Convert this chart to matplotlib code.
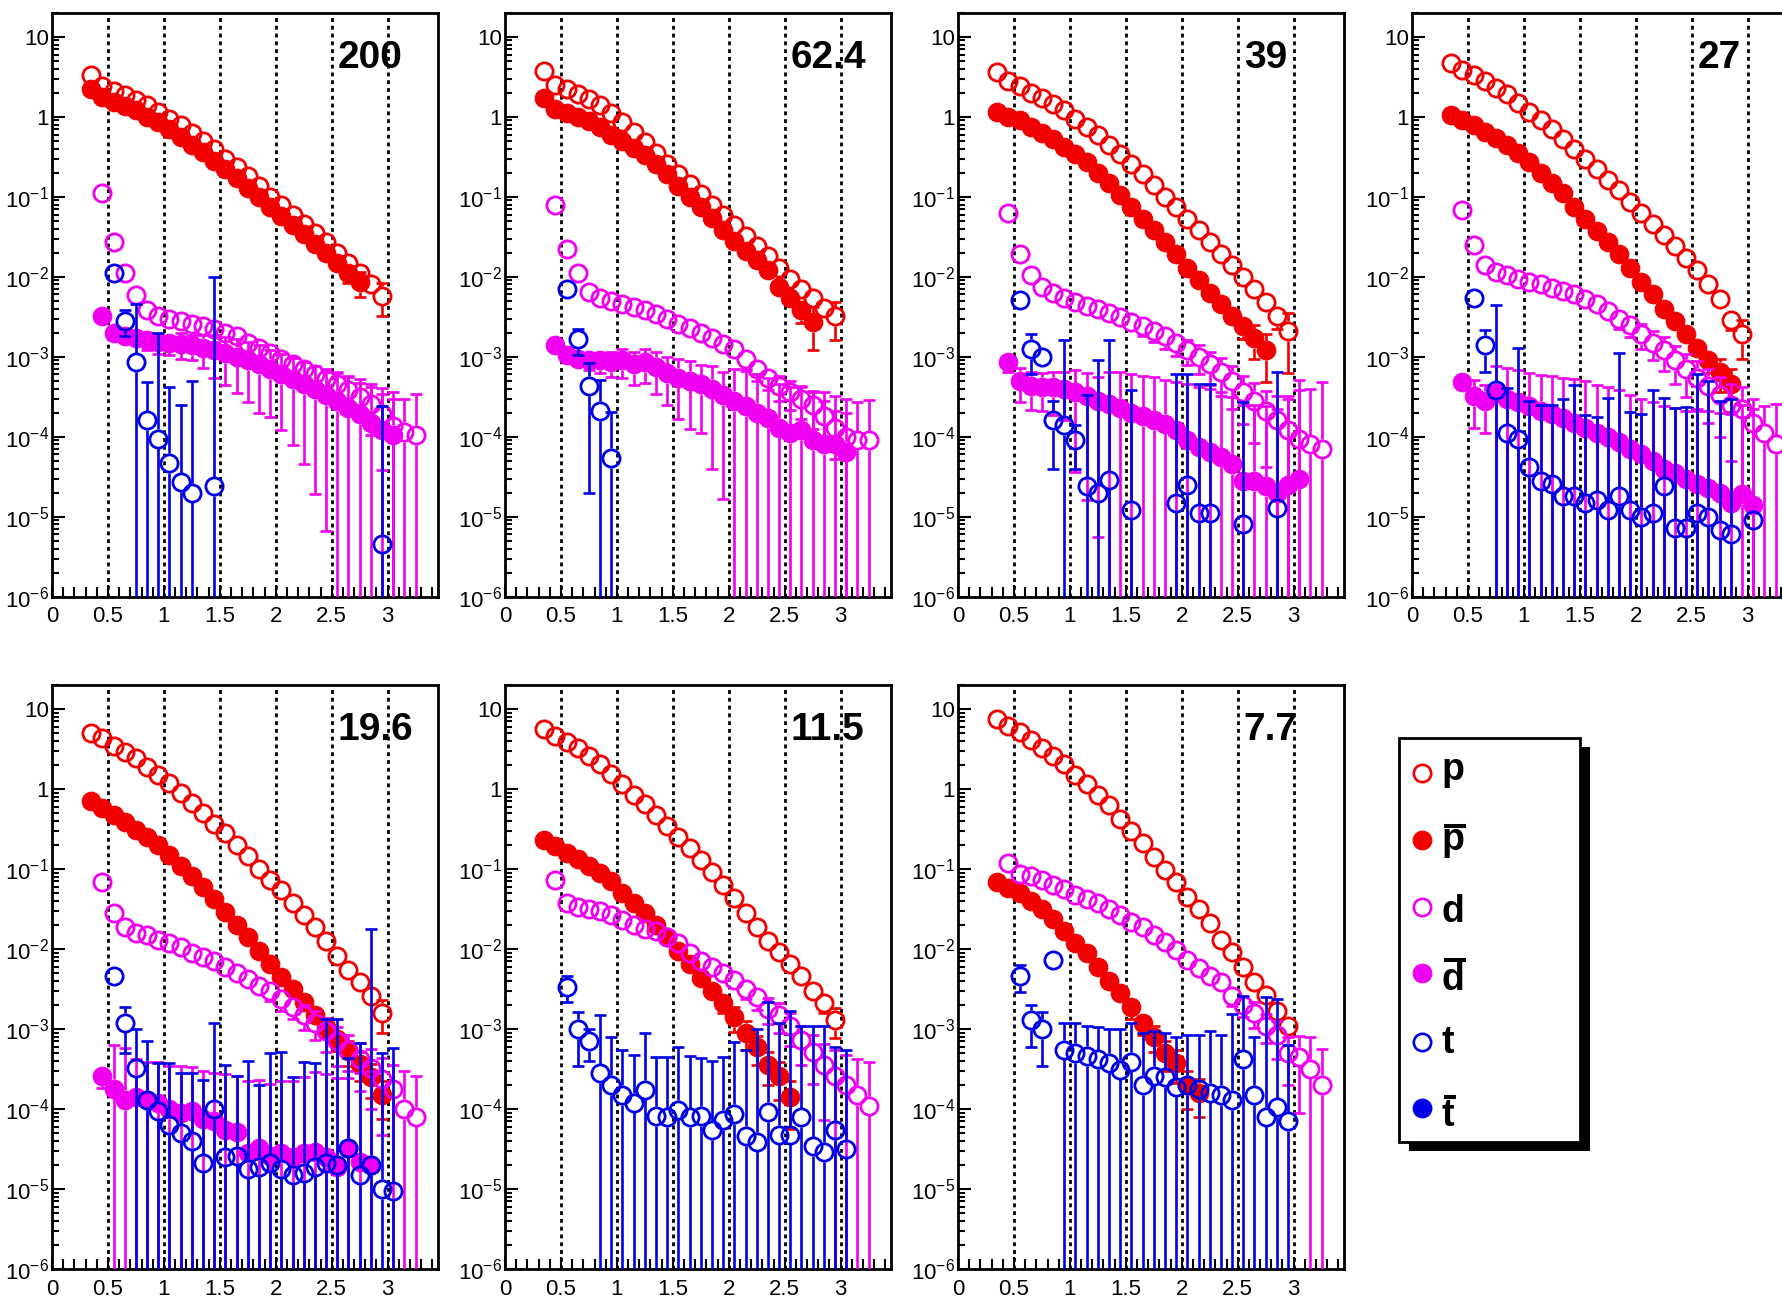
import numpy as np
import matplotlib.pyplot as plt
from matplotlib.patches import Rectangle
from matplotlib.ticker import (FixedLocator, LogLocator, MultipleLocator,
                               NullFormatter, FuncFormatter, FormatStrFormatter)

plt.rcParams["font.family"] = "Liberation Sans"
plt.rcParams["mathtext.fontset"] = "custom"
plt.rcParams["mathtext.rm"] = "Liberation Sans"
plt.rcParams["mathtext.bf"] = "Liberation Sans:bold"

# ---------------------------------------------------------------------------
# bin centres
# ---------------------------------------------------------------------------
X_P = [0.35, 0.45, 0.55, 0.65, 0.75, 0.85, 0.95, 1.05, 1.15, 1.25, 1.35, 1.45,
       1.55, 1.65, 1.75, 1.85, 1.95, 2.05, 2.15, 2.25, 2.35, 2.45, 2.55, 2.65,
       2.75, 2.85, 2.95]
X_D = [0.45, 0.55, 0.65, 0.75, 0.85, 0.95, 1.05, 1.15, 1.25, 1.35, 1.45, 1.55,
       1.65, 1.75, 1.85, 1.95, 2.05, 2.15, 2.25, 2.35, 2.45, 2.55, 2.65, 2.75,
       2.85, 2.95, 3.05, 3.15, 3.25]
X_T = [0.55, 0.65, 0.75, 0.85, 0.95, 1.05, 1.15, 1.25, 1.35, 1.45, 1.55, 1.65,
       1.75, 1.85, 1.95, 2.05, 2.15, 2.25, 2.35, 2.45, 2.55, 2.65, 2.75, 2.85,
       2.95, 3.05]

ENERGIES = ["200", "62.4", "39", "27", "19.6", "11.5", "7.7"]

# ---------------------------------------------------------------------------
# 200
# ---------------------------------------------------------------------------
P_200 = [3.3, 2.4, 2.1, 1.85, 1.6, 1.4, 1.15, 0.95, 0.78, 0.62, 0.5, 0.39, 0.3,
         0.235, 0.18, 0.135, 0.1, 0.078, 0.06, 0.046, 0.035, 0.027, 0.02, 0.015,
         0.011, 0.008, 0.0058]
P_TAIL_200 = [0.2, 0.45]
PBAR_200 = [2.2, 1.75, 1.55, 1.35, 1.2, 1.0, 0.85, 0.7, 0.56, 0.45, 0.36, 0.28,
            0.22, 0.17, 0.13, 0.1, 0.075, 0.058, 0.044, 0.034, 0.026, 0.02,
            0.015, 0.011, 0.0085]
PBAR_TAIL_200 = [0.15, 0.25, 0.35]
D_200 = [0.11, 0.027, 0.011, 0.0059, 0.0038, 0.0032, 0.003, 0.0028, 0.0026,
         0.0024, 0.0022, 0.002, 0.0018, 0.0015, 0.0013, 0.0011, 9.5e-4, 8.2e-4,
         7e-4, 6e-4, 5.2e-4, 4.5e-4, 3.8e-4, 3.1e-4, 2.6e-4, 1.9e-4, 1.35e-4,
         1.15e-4, 1.05e-4]
D_ERR_200 = [0.03, 0.03, 0.03, 0.03, 0.05, 0.05, 0.05, 0.06, 0.07, 0.08, 0.1,
             0.12, 0.14, 0.16, 0.18, 0.2, 0.22, 0.25, 0.28, 0.3, 0.35, 0.4,
             0.45, 0.5, 0.6, 0.8, 1.2, 1.6, 2.3]
DBAR_200 = [3.2e-3, 2.0e-3, 1.8e-3, 1.7e-3, 1.6e-3, 1.55e-3, 1.5e-3, 1.45e-3,
            1.4e-3, 1.3e-3, 1.2e-3, 1.1e-3, 1.0e-3, 9e-4, 8e-4, 7e-4, 6e-4,
            5.2e-4, 4.5e-4, 3.9e-4, 3.3e-4, 2.8e-4, 2.3e-4, 1.9e-4, 1.5e-4,
            1.2e-4, 1.05e-4]
DBAR_ERR_200 = [0.1, 0.15, 0.2, 0.2, 0.25, 0.3, 0.3, 0.35, 0.35, 0.45, 0.55,
                0.6, 0.65, 0.7, 0.75, 0.75, 0.8, 0.85, 0.9, 0.95, 0.98, 1.3,
                1.5, 1.8, 2.0, 2.4, 2.5]
T_200 = ([0.011, 2.8e-3, 8.5e-4, 1.6e-4, 9.5e-5, 4.7e-5, 2.7e-5, 2.0e-5, None,
          2.4e-5] + [None] * 14 + [4.5e-6, None])
T_ERR_200 = ([5e-4, 1e-3, 3.7e-3, 3.3e-4, 1.9e-3, 3.7e-4, 2.2e-4, 4.8e-4, None,
              1e-2] + [None] * 14 + [2.4e-4, None])

# ---------------------------------------------------------------------------
# 62.4
# ---------------------------------------------------------------------------
P_62 = [3.7, 2.5, 2.2, 1.9, 1.65, 1.4, 1.1, 0.87, 0.65, 0.48, 0.355, 0.26,
        0.195, 0.145, 0.107, 0.079, 0.059, 0.044, 0.032, 0.024, 0.018, 0.013,
        0.0095, 0.007, 0.0054, 0.0041, 0.0032]
P_TAIL_62 = [0.2, 0.5]
PBAR_62 = [1.7, 1.25, 1.1, 1.0, 0.88, 0.75, 0.6, 0.5, 0.41, 0.33, 0.26, 0.19,
           0.135, 0.1, 0.075, 0.055, 0.038, 0.028, 0.021, 0.016, 0.012, 0.0075,
           0.0055, 0.0038, 0.0027]
PBAR_TAIL_62 = [0.3, 0.55]
D_62 = [0.078, 0.022, 0.011, 6.5e-3, 5.5e-3, 5e-3, 4.6e-3, 4.2e-3, 3.8e-3,
        3.4e-3, 3e-3, 2.6e-3, 2.3e-3, 2e-3, 1.7e-3, 1.45e-3, 1.25e-3, 9.5e-4,
        7e-4, 5.5e-4, 4.3e-4, 3.6e-4, 3e-4, 2.5e-4, 1.8e-4, 1.3e-4, 1.0e-4,
        9e-5, 9e-5]
D_ERR_62 = [0.03, 0.03, 0.03, 0.03, 0.05, 0.05, 0.05, 0.06, 0.07, 0.08, 0.1,
            0.12, 0.14, 0.16, 0.18, 0.2, 0.22, 0.25, 0.28, 0.3, 0.35, 0.4,
            0.45, 0.5, 0.55, 0.6, 1.0, 2.0, 2.2]
DBAR_62 = [1.4e-3, 1.05e-3, 9.5e-4, 9e-4, 9e-4, 8.5e-4, 9e-4, 8e-4, 8.5e-4,
           7.5e-4, 6.2e-4, 5.5e-4, 5e-4, 4.5e-4, 4e-4, 3.3e-4, 2.8e-4, 2.4e-4,
           2e-4, 1.7e-4, 1.3e-4, 1.1e-4, 1.2e-4, 9e-5, 8e-5, 8e-5, 6.5e-5]
DBAR_ERR_62 = [0.1, 0.15, 0.2, 0.25, 0.3, 0.35, 0.4, 0.45, 0.45, 0.55, 0.6,
               0.7, 0.75, 0.75, 0.9, 0.95, 1.5, 1.8, 2.0, 2.2, 2.5, 2.8, 2.5,
               3.0, 3.5, 3.0, 3.5]
T_62 = [7e-3, 1.65e-3, 4.3e-4, 2.1e-4, 5.4e-5]
T_ERR_62 = [5e-4, 6e-4, 4.1e-4, 3e-4, 1.5e-4]

# ---------------------------------------------------------------------------
# 39
# ---------------------------------------------------------------------------
P_39 = [3.6, 2.8, 2.4, 2.0, 1.7, 1.45, 1.2, 0.95, 0.75, 0.6, 0.45, 0.34, 0.26,
        0.19, 0.14, 0.1, 0.075, 0.053, 0.038, 0.027, 0.019, 0.014, 0.0098,
        0.007, 0.0048, 0.0032, 0.0021]
P_TAIL_39 = [0.15, 0.3, 0.7]
PBAR_39 = [1.15, 1.0, 0.9, 0.75, 0.63, 0.52, 0.42, 0.34, 0.27, 0.2, 0.15, 0.105,
           0.075, 0.053, 0.038, 0.027, 0.019, 0.013, 0.009, 0.0063, 0.0045,
           0.0032, 0.0024, 0.0017, 0.0012]
PBAR_TAIL_39 = [0.3, 0.45, 0.6]
D_39 = [0.062, 0.019, 0.0105, 0.0075, 0.0062, 0.0055, 0.0048, 0.0043, 0.0039,
        0.0035, 0.0031, 0.0027, 0.0024, 0.0021, 0.0018, 0.0015, 0.0012, 0.001,
        8e-4, 6.5e-4, 5e-4, 3.6e-4, 2.8e-4, 2.1e-4, 1.6e-4, 1.2e-4, 9.5e-5,
        8e-5, 7e-5]
D_ERR_39 = [0.03, 0.03, 0.03, 0.04, 0.05, 0.06, 0.08, 0.1, 0.12, 0.15, 0.2,
            0.22, 0.25, 0.28, 0.3, 0.32, 0.35, 0.4, 0.45, 0.5, 0.55, 0.6, 0.7,
            0.8, 1.0, 1.5, 3.0, 4.0, 6.0]
DBAR_39 = [8.5e-4, 5e-4, 4.3e-4, 4.2e-4, 4.2e-4, 4e-4, 3.6e-4, 3.2e-4, 2.8e-4,
           2.6e-4, 2.3e-4, 2e-4, 1.8e-4, 1.6e-4, 1.45e-4, 1.2e-4, 9e-5, 7.5e-5,
           6.5e-5, 5.5e-5, 4.5e-5, 2.8e-5, 2.8e-5, 2.4e-5, 2e-5, 2.5e-5, 3e-5]
DBAR_ERR_39 = [0.25, 0.45, 0.5, 0.5, 0.55, 0.6, 0.9, 0.95, 0.98, 1.5, 1.8, 2.0,
               2.2, 2.5, 2.5, 3.0, 4.0, 4.5, 5.0, 5.5, 6.0, 8.0, 8.0, 9.0, 10.0,
               12.0, 16.0]
T_39 = [5.1e-3, 1.25e-3, 1.0e-3, 1.6e-4, 1.4e-4, 9e-5, 2.4e-5, 2.0e-5, 2.9e-5,
        None, 1.2e-5, None, None, None, 1.5e-5, 2.5e-5, 1.1e-5, 1.1e-5, None,
        None, 8e-6, None, None, 1.3e-5, None, None]
T_ERR_39 = [5e-4, 6.5e-4, 0, 1.2e-4, 1.5e-3, 5e-5, 3.1e-4, 8.8e-4, 1.6e-3,
            None, 3.7e-4, None, None, None, 5.9e-4, 5.8e-4, 4.4e-4, 4.5e-4,
            None, None, 2.6e-4, None, None, 6.4e-4, None, None]

# ---------------------------------------------------------------------------
# 27
# ---------------------------------------------------------------------------
P_27 = [4.7, 3.8, 3.3, 2.8, 2.3, 1.9, 1.5, 1.15, 0.9, 0.7, 0.52, 0.4, 0.3,
        0.22, 0.16, 0.12, 0.085, 0.062, 0.045, 0.033, 0.024, 0.017, 0.012,
        0.008, 0.0053, 0.0029, 0.0019]
P_TAIL_27 = [0.15, 0.25, 0.5]
PBAR_27 = [1.05, 0.9, 0.78, 0.65, 0.54, 0.44, 0.35, 0.27, 0.2, 0.15, 0.11,
           0.075, 0.052, 0.037, 0.027, 0.019, 0.013, 0.0085, 0.006, 0.004,
           0.0028, 0.0019, 0.0013, 9e-4, 6.5e-4, 4.5e-4]
PBAR_TAIL_27 = [0.2, 0.3, 0.45, 0.55]
D_27 = [0.068, 0.025, 0.014, 0.0115, 0.0105, 0.0095, 0.0085, 0.008, 0.0073,
        0.0066, 0.006, 0.0053, 0.0045, 0.0037, 0.003, 0.0025, 0.0019, 0.0015,
        0.0012, 9e-4, 7e-4, 5.5e-4, 4.3e-4, 3.3e-4, 2.5e-4, 2.2e-4, 1.5e-4,
        1.1e-4, 8e-5]
D_ERR_27 = [0.03] * 8 + [0.08, 0.1, 0.12, 0.15, 0.18, 0.22, 0.25, 0.3, 0.35,
                         0.4, 0.45, 0.5, 0.55, 0.6, 0.65, 0.7, 0.8, 0.9, 1.0,
                         1.2, 2.2]
DBAR_27 = [4.8e-4, 3.2e-4, 2.8e-4, 3.5e-4, 3e-4, 2.7e-4, 2.4e-4, 2.1e-4, 1.9e-4,
           1.7e-4, 1.5e-4, 1.3e-4, 1.1e-4, 1e-4, 8.5e-5, 7e-5, 6e-5, 5e-5,
           4e-5, 3.5e-5, 3e-5, 2.6e-5, 2.3e-5, 2e-5, 1.5e-5, 1.9e-5, 1.4e-5]
DBAR_ERR_27 = [0.2, 0.6, 0.6, 1.2, 1.4, 1.5, 1.6, 1.8, 2.0, 2.2, 2.5, 2.8, 3.0,
               3.2, 3.5, 3.8, 4.0, 4.5, 5.0, 5.5, 6.0, 7.0, 8.0, 9.0, 12.0,
               12.0, 15.0]
T_27 = [5.4e-3, 1.4e-3, 3.8e-4, 1.1e-4, 9.5e-5, 4.2e-5, 2.8e-5, 2.6e-5, 1.8e-5,
        1.8e-5, 1.5e-5, 1.6e-5, 1.2e-5, 1.8e-5, 1.2e-5, 1.0e-5, 1.1e-5, 2.4e-5,
        7.2e-6, 7.2e-6, 1.1e-5, 1.0e-5, 6.8e-6, 6.1e-6, None, 9e-6]
T_ERR_27 = [5e-4, 7.5e-4, 4.1e-3, 3e-4, 1.2e-3, 2.4e-4, 2.2e-4, 2.2e-4, 2.8e-4,
            4.3e-4, 1.7e-4, 1.6e-4, 2.9e-4, 1.1e-3, 1.9e-4, 1.8e-4, 3.7e-4,
            2.8e-4, 2.2e-4, 2.3e-4, 5.9e-4, 4.9e-4, 2.7e-4, 2.9e-4, None, 0]

# ---------------------------------------------------------------------------
# 19.6
# ---------------------------------------------------------------------------
P_19 = [5.0, 4.4, 3.5, 2.9, 2.45, 1.9, 1.5, 1.2, 0.9, 0.67, 0.5, 0.37, 0.28,
        0.2, 0.145, 0.1, 0.072, 0.054, 0.038, 0.027, 0.019, 0.0125, 0.0083,
        0.0055, 0.0039, 0.0026, 0.0016]
P_TAIL_19 = [0.2, 0.45]
PBAR_19 = [0.7, 0.58, 0.48, 0.39, 0.31, 0.25, 0.2, 0.15, 0.11, 0.083, 0.06,
           0.042, 0.029, 0.02, 0.014, 0.0095, 0.0065, 0.0045, 0.0032, 0.0022,
           0.0015, 1.05e-3, 7.5e-4, 5.3e-4, 3.7e-4, 2.5e-4, 1.5e-4]
PBAR_TAIL_19 = [0.2, 0.25, 0.3, 0.35, 0.4, 0.45, 0.5]
D_19 = [0.068, 0.028, 0.019, 0.016, 0.015, 0.013, 0.012, 0.0105, 0.009, 0.008,
        0.007, 0.006, 0.005, 0.0042, 0.0035, 0.003, 0.0024, 0.0019, 0.0015,
        0.0012, 9.5e-4, 7e-4, 5.5e-4, 4.2e-4, 3.3e-4, 2.4e-4, 1.8e-4, 1e-4,
        8e-5]
D_ERR_19 = [0.03] * 10 + [0.08, 0.1, 0.12, 0.15, 0.2, 0.25, 0.3, 0.3, 0.35,
                          0.4, 0.45, 0.5, 0.55, 0.6, 0.7, 0.8, 1.0, 2.0, 2.2]
DBAR_19 = [2.6e-4, 1.8e-4, 1.3e-4, 1.4e-4, 1.3e-4, 1.2e-4, 1.0e-4, 9e-5, 9.5e-5,
           7.5e-5, 7e-5, 5.5e-5, 5.2e-5, 2.8e-5, 3.3e-5, 2.6e-5, 2.8e-5, 2.5e-5,
           2.8e-5, 2.9e-5, 2.5e-5, 1.9e-5, 3.3e-5, 2.2e-5, 2e-5]
DBAR_ERR_19 = [0.3, 2.5, 3.5, 2.0, 2.0, 2.2, 2.5, 2.8, 2.5, 3.0, 3.0, 4.0, 4.0,
               7.0, 6.0, 7.0, 7.0, 8.0, 8.0, 9.0, 10.0, 12.0, 8.0, 12.0, 14.0]
T_19 = [4.6e-3, 1.2e-3, 3.3e-4, 1.3e-4, 9.5e-5, 6.3e-5, 5e-5, 4e-5, 2.1e-5,
        1e-4, 2.5e-5, 2.6e-5, 1.8e-5, 1.9e-5, 2.1e-5, 1.8e-5, 1.5e-5, 1.6e-5,
        1.9e-5, 2.1e-5, 2e-5, 3.3e-5, 1.5e-5, 2e-5, 1e-5, 9.5e-6]
T_ERR_19 = [6e-4, 7e-4, 6.7e-4, 5.7e-4, 2.8e-4, 3.1e-4, 2.3e-4, 2.4e-4, 2.1e-4,
            1.1e-3, 3.3e-4, 2.3e-4, 3.8e-4, 1.8e-4, 4.8e-4, 5e-4, 2.4e-4,
            3.7e-4, 3.6e-4, 1.3e-3, 1.3e-3, 4e-4, 6.5e-4, 1.8e-2, 4.9e-4,
            5.7e-4]

# ---------------------------------------------------------------------------
# 11.5
# ---------------------------------------------------------------------------
P_11 = [5.7, 4.6, 3.9, 3.3, 2.6, 2.05, 1.55, 1.15, 0.85, 0.66, 0.48, 0.35, 0.25,
        0.185, 0.13, 0.092, 0.064, 0.043, 0.028, 0.019, 0.0125, 0.0092, 0.0065,
        0.0046, 0.003, 0.0021, 0.0013]
P_TAIL_11 = [0.15, 0.25, 0.4]
PBAR_11 = [0.23, 0.195, 0.16, 0.135, 0.11, 0.09, 0.07, 0.05, 0.038, 0.028, 0.02,
           0.014, 0.0095, 0.0065, 0.0043, 0.003, 0.0021, 0.0014, 9e-4, 5.9e-4,
           3.6e-4, 2.6e-4, 1.4e-4]
PBAR_TAIL_11 = [0.15, 0.2, 0.25, 0.35, 0.4, 0.4, 0.45, 0.5, 0.6]
D_11 = [0.072, 0.038, 0.034, 0.032, 0.03, 0.027, 0.023, 0.02, 0.018, 0.017,
        0.014, 0.012, 0.009, 0.007, 0.006, 0.005, 0.0041, 0.0032, 0.0025,
        0.0018, 0.0015, 0.0011, 7.2e-4, 5.2e-4, 3.6e-4, 2.6e-4, 2e-4, 1.5e-4,
        1.1e-4]
D_ERR_11 = [0.03] * 12 + [0.08, 0.1, 0.12, 0.15, 0.2, 0.25, 0.3, 0.35, 0.4,
                          0.45, 0.5, 0.6, 0.8, 1.1, 1.4, 1.8, 2.5]
DBAR_11 = []
DBAR_ERR_11 = []
T_11 = [3.4e-3, 1.0e-3, 7e-4, 2.8e-4, 2e-4, 1.5e-4, 1.2e-4, 1.75e-4, 8.2e-5,
        7.9e-5, 9.8e-5, 7.9e-5, 8.2e-5, 5.4e-5, 7.3e-5, 8.7e-5, 4.6e-5, 3.9e-5,
        9.2e-5, 4.8e-5, 4.8e-5, 7.9e-5, 3.4e-5, 2.9e-5, 5.4e-5, 3.2e-5]
T_ERR_11 = [1.2e-3, 6.5e-4, 3e-4, 1.2e-3, 6e-4, 4e-4, 3.6e-4, 7.3e-4, 3.7e-4,
            3.7e-4, 5e-4, 3.8e-4, 3.5e-4, 3.5e-4, 3.8e-4, 6.1e-4, 5e-4, 9.6e-4,
            2.1e-3, 1.15e-3, 1.65e-3, 1e-3, 1.07e-3, 1.07e-3, 5.5e-4, 5.2e-4]

# ---------------------------------------------------------------------------
# 7.7
# ---------------------------------------------------------------------------
P_7 = [7.5, 6.2, 5.2, 4.1, 3.3, 2.6, 2.05, 1.5, 1.15, 0.85, 0.64, 0.42, 0.3,
       0.21, 0.14, 0.097, 0.068, 0.045, 0.032, 0.021, 0.013, 0.0092, 0.006,
       0.0039, 0.0027, 0.0017, 0.0011]
P_TAIL_7 = [0.1, 0.15, 0.2]
PBAR_7 = [0.068, 0.058, 0.05, 0.04, 0.032, 0.024, 0.017, 0.012, 0.009, 0.006,
          0.004, 0.0028, 0.0019, 0.0012, 8e-4, 5e-4, 3.8e-4, 2e-4, 1.6e-4]
PBAR_TAIL_7 = [0.3, 0.3, 0.35, 0.4, 0.45, 0.5, 0.5]
D_7 = [0.12, 0.086, 0.081, 0.072, 0.064, 0.057, 0.048, 0.042, 0.038, 0.032,
       0.027, 0.022, 0.019, 0.015, 0.0124, 0.0098, 0.0073, 0.0058, 0.0046,
       0.0039, 0.0026, 0.002, 0.0016, 0.0011, 8.4e-4, 5e-4, 4.5e-4, 3.2e-4,
       2e-4]
D_ERR_7 = [0.02] * 14 + [0.05, 0.08, 0.1, 0.12, 0.15, 0.2, 0.25, 0.3, 0.35,
                         0.4, 0.5, 0.6, 0.8, 1.5, 1.8]
DBAR_7 = []
DBAR_ERR_7 = []
T_7 = [4.6e-3, 1.3e-3, 1.0e-3, 7.3e-3, 5.5e-4, 5e-4, 4.6e-4, 4.2e-4, 3.8e-4,
       3.1e-4, 3.9e-4, 2e-4, 2.6e-4, 2.5e-4, 1.9e-4, 2e-4, 1.8e-4, 1.6e-4,
       1.5e-4, 1.3e-4, 4.2e-4, 1.5e-4, 8e-5, 1.05e-4, 7e-5]
T_ERR_7 = [1.7e-3, 7e-4, 6.5e-4, 0, 6.5e-4, 7e-4, 6.4e-4, 6.3e-4, 6.2e-4,
           6.9e-4, 8.1e-4, 7e-4, 6.9e-4, 6.5e-4, 6.1e-4, 6.5e-4, 6.7e-4,
           7.9e-4, 7e-4, 1.4e-3, 2.2e-3, 6.5e-4, 2.4e-3, 2.3e-3, 5.6e-4]

# ---------------------------------------------------------------------------
# styling
# ---------------------------------------------------------------------------
RED = "#f00000"
MAGENTA = "#f000f0"
BLUE = "#0000e6"
W_PX, H_PX = 1783, 1301
LEFTS = [52, 505, 958, 1412, 52, 505, 958]
TOPS = [12.7, 12.7, 12.7, 12.7, 685, 685, 685]
AX_W, AX_H = 386, 584
EDGE = 1.32       # marker rim as a ratio on the log axis; bars stop there
LW_BAR = 1.9


def tail_errors(vals, tail, base=0.02):
    rel = [base] * (len(vals) - len(tail)) + list(tail)
    return [v * r for v, r in zip(vals, rel)]


def rel_errors(vals, rel):
    return [v * r for v, r in zip(vals, rel)]


def draw_series(ax, xs, ys, errs, color, filled, z):
    bx, blo, bhi, cx, cy, px, py = [], [], [], [], [], [], []
    for x, y, e in zip(xs, ys, errs):
        if y is None:
            continue
        px.append(x)
        py.append(y)
        if not e:
            continue
        hi, lo = y + e, y - e
        if hi > y * EDGE:
            bx.append(x); blo.append(y * EDGE); bhi.append(hi)
            cx.append(x); cy.append(hi)
        if lo < y / EDGE:
            bx.append(x); blo.append(lo if lo > 0 else 1e-9); bhi.append(y / EDGE)
            if lo > 0:
                cx.append(x); cy.append(lo)
    if bx:
        ax.vlines(bx, blo, bhi, colors=color, lw=LW_BAR, zorder=z)
    if cx:
        ax.plot(cx, cy, ls="none", marker="_", ms=9, mew=LW_BAR, color=color,
                zorder=z)
    if filled:
        ax.plot(px, py, ls="none", marker="o", ms=13.4, mfc=color, mec=color,
                mew=0.8, zorder=z + 0.5)
    else:
        ax.plot(px, py, ls="none", marker="o", ms=12.4, mfc="none", mec=color,
                mew=2.0, zorder=z + 0.5)


def ylabel_fmt(v, pos):
    e = int(round(np.log10(v)))
    if e == 0:
        return "1"
    if e == 1:
        return "10"
    return r"$\mathregular{10^{%d}}$" % e


panels = [
    (P_200, P_TAIL_200, PBAR_200, PBAR_TAIL_200, D_200, D_ERR_200, DBAR_200,
     DBAR_ERR_200, T_200, T_ERR_200),
    (P_62, P_TAIL_62, PBAR_62, PBAR_TAIL_62, D_62, D_ERR_62, DBAR_62,
     DBAR_ERR_62, T_62, T_ERR_62),
    (P_39, P_TAIL_39, PBAR_39, PBAR_TAIL_39, D_39, D_ERR_39, DBAR_39,
     DBAR_ERR_39, T_39, T_ERR_39),
    (P_27, P_TAIL_27, PBAR_27, PBAR_TAIL_27, D_27, D_ERR_27, DBAR_27,
     DBAR_ERR_27, T_27, T_ERR_27),
    (P_19, P_TAIL_19, PBAR_19, PBAR_TAIL_19, D_19, D_ERR_19, DBAR_19,
     DBAR_ERR_19, T_19, T_ERR_19),
    (P_11, P_TAIL_11, PBAR_11, PBAR_TAIL_11, D_11, D_ERR_11, DBAR_11,
     DBAR_ERR_11, T_11, T_ERR_11),
    (P_7, P_TAIL_7, PBAR_7, PBAR_TAIL_7, D_7, D_ERR_7, DBAR_7,
     DBAR_ERR_7, T_7, T_ERR_7),
]

fig = plt.figure(figsize=(W_PX / 100, H_PX / 100), dpi=100)

for i, (p, p_t, pb, pb_t, d, d_e, db, db_e, t, t_e) in enumerate(panels):
    rect = [LEFTS[i] / W_PX, (H_PX - TOPS[i] - AX_H) / H_PX,
            AX_W / W_PX, AX_H / H_PX]
    ax = fig.add_axes(rect)
    ax.set_yscale("log")
    ax.set_xlim(0, 3.45)
    ax.set_ylim(1e-6, 20)

    for xv in [0.5, 1.0, 1.5, 2.0, 2.5, 3.0]:
        ax.axvline(xv, color="black", lw=2.0, ls=(0, (1.4, 1.4)), zorder=1)

    draw_series(ax, X_P, p, tail_errors(p, p_t), RED, False, 3)
    draw_series(ax, X_P, pb, tail_errors(pb, pb_t), RED, True, 4)
    draw_series(ax, X_D, d, rel_errors(d, d_e), MAGENTA, False, 5)
    draw_series(ax, X_D, db, rel_errors(db, db_e), MAGENTA, True, 6)
    draw_series(ax, X_T, t, t_e, BLUE, False, 7)

    ax.yaxis.set_major_locator(FixedLocator([1e-6, 1e-5, 1e-4, 1e-3, 1e-2,
                                             1e-1, 1, 10]))
    ax.yaxis.set_minor_locator(LogLocator(base=10, subs=np.arange(2, 10),
                                          numticks=30))
    ax.yaxis.set_minor_formatter(NullFormatter())
    ax.yaxis.set_major_formatter(FuncFormatter(ylabel_fmt))
    ax.xaxis.set_major_locator(MultipleLocator(0.5))
    ax.xaxis.set_minor_locator(MultipleLocator(0.1))
    ax.xaxis.set_major_formatter(FormatStrFormatter("%g"))

    ax.tick_params(which="both", direction="in", top=False, right=False,
                   width=1.5, labelsize=16)
    ax.tick_params(axis="both", which="major", length=9)
    ax.tick_params(axis="x", which="minor", length=7)
    ax.tick_params(axis="y", which="minor", length=5)
    ax.tick_params(axis="x", which="major", pad=7)
    ax.tick_params(axis="y", which="major", pad=2)
    for s in ax.spines.values():
        s.set_linewidth(2.0)

    ax.text(0.74, 0.905, ENERGIES[i], transform=ax.transAxes, fontsize=28,
            fontweight="bold", ha="left", va="baseline", zorder=10)

# legend box with drop shadow, laid out in pixel units
lg = fig.add_axes([0, 0, 1, 1], zorder=20)
lg.set_xlim(0, W_PX)
lg.set_ylim(H_PX, 0)
lg.axis("off")
lg.patch.set_alpha(0)
lg.add_patch(Rectangle((1409, 747), 181, 404, facecolor="black",
                       edgecolor="none"))
lg.add_patch(Rectangle((1399, 738), 181, 404, facecolor="white",
                       edgecolor="black", lw=2.0))

LEG_TEXT = ["p", "p", "d", "d", "t", "t"]
LEG_BAR = [False, True, False, True, False, True]
LEG_COLOR = [RED, RED, MAGENTA, MAGENTA, BLUE, BLUE]
LEG_MARKER_Y = [773, 840, 907, 973, 1042, 1108]
LEG_BASELINE = [780, 850, 922, 990, 1053, 1126]
LEG_BAR_Y = [None, 826, None, 960, None, 1097]

for txt, bar, col, my, by, oy in zip(LEG_TEXT, LEG_BAR, LEG_COLOR,
                                     LEG_MARKER_Y, LEG_BASELINE, LEG_BAR_Y):
    if bar:
        lg.plot([1422], [my], marker="o", ms=13.5, mfc=col, mec=col, mew=0.8)
    else:
        lg.plot([1422], [my], marker="o", ms=12.5, mfc="none", mec=col, mew=1.9)
    lg.text(1442, by, txt, fontsize=27, fontweight="bold", ha="left",
            va="baseline")
    if oy is not None:
        w = 12 if txt == "t" else 22
        lg.plot([1444, 1444 + w], [oy, oy], color="black", lw=2.9,
                solid_capstyle="butt")

fig.savefig("out.png", dpi=100)
